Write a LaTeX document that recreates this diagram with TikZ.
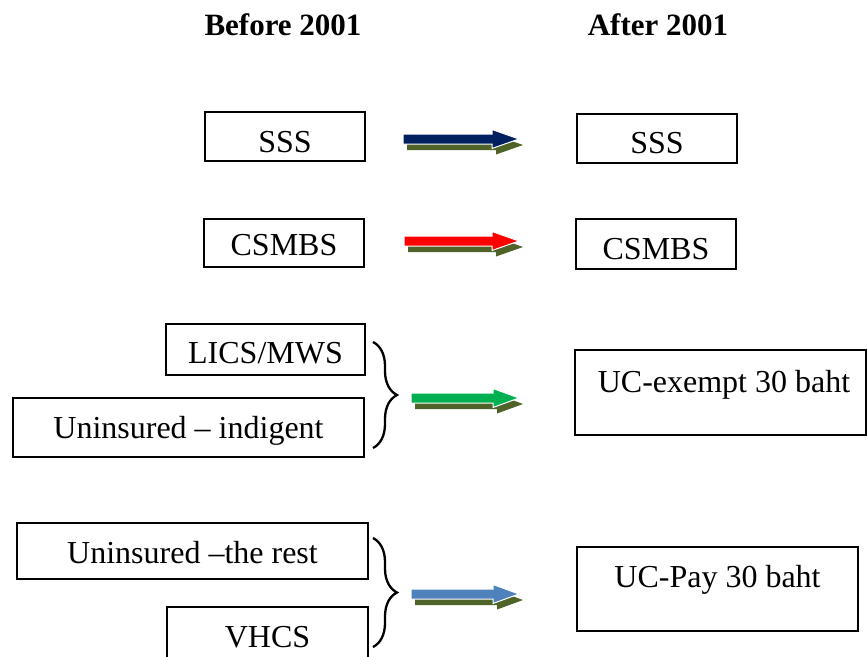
\documentclass[tikz,border=0pt]{standalone}
\usepackage{fontspec}
\setmainfont{Liberation Serif}
\usetikzlibrary{decorations.pathreplacing}
\definecolor{navyc}{HTML}{002060}
\definecolor{redc}{HTML}{FF0000}
\definecolor{greenc}{HTML}{00B050}
\definecolor{bluec}{HTML}{4F81BD}
\definecolor{shadowc}{HTML}{4F6228}
\newcommand\blockarrow[4]{% #1 start coordinate, #2 shaft length, #3 head length, #4 colour
  \begin{scope}[shift={(#1)}]
    \fill[shadowc, shift={(4,6)}] (0,-5) -- (#2,-5) -- (#2,-9.5) -- ({#2+#3},0) -- (#2,9.5) -- (#2,5) -- (0,5) -- cycle;
    \filldraw[fill=#4, draw=white, line width=1pt] (0,-5) -- (#2,-5) -- (#2,-9.5) -- ({#2+#3},0) -- (#2,9.5) -- (#2,5) -- (0,5) -- cycle;
  \end{scope}}
\begin{document}
\begin{tikzpicture}[x=1pt,y=-1pt,
  box/.style={draw, line width=1.3pt, inner sep=0pt, rectangle},
  txt/.style={anchor=base, inner sep=0pt, font=\fontsize{32}{38}\selectfont},
  head/.style={anchor=base, inner sep=0pt, font=\fontsize{31}{37}\selectfont\bfseries},
  brc/.style={decorate, decoration={brace, amplitude=24pt}, line width=2.3pt}]
\clip (0,0) rectangle (867,656);
\fill[white] (0,0) rectangle (867,656);

% headers
\node[head] (hb) at (283,35) {Before 2001};
\node[head] (ha) at (658,35) {After 2001};

% boxes
\node[box, minimum width=160pt, minimum height=49pt] (sssL) at (285,136.5) {};
\node[box, minimum width=160pt, minimum height=49pt] (sssR) at (657,138.5) {};
\node[box, minimum width=160pt, minimum height=48pt] (csL) at (284,243) {};
\node[box, minimum width=160pt, minimum height=50pt] (csR) at (656,244) {};
\node[box, minimum width=199pt, minimum height=51pt] (lics) at (265.5,349.5) {};
\node[box, minimum width=351pt, minimum height=59pt] (indig) at (188.5,427.5) {};
\node[box, minimum width=291pt, minimum height=85pt] (exempt) at (720.5,392.5) {};
\node[box, minimum width=351pt, minimum height=56pt] (rest) at (192.5,551) {};
\node[box, minimum width=201pt, minimum height=70pt] (vhcs) at (267.5,642) {};
\node[box, minimum width=281pt, minimum height=84pt] (upay) at (717.5,589) {};

% texts
\node[txt] (tsssL) at (285,152) {SSS};
\node[txt] (tsssR) at (657,153) {SSS};
\node[txt] (tcsL) at (284,255) {CSMBS};
\node[txt] (tcsR) at (656,259) {CSMBS};
\node[txt] (tlics) at (265.5,363) {LICS/MWS};
\node[txt] (tindig) at (188.5,438) {Uninsured – indigent};
\node[txt] (texempt) at (724,392) {UC-exempt 30 baht};
\node[txt] (trest) at (192.5,563) {Uninsured –the rest};
\node[txt] (tvhcs) at (267.5,647) {VHCS};
\node[txt] (tupay) at (717.5,587) {UC-Pay 30 baht};

% braces
\coordinate (b1t) at (373,342);
\coordinate (b1b) at (373,448);
\coordinate (b2t) at (373,538);
\coordinate (b2b) at (373,647);
\draw[brc] (b1t) -- (b1b);
\draw[brc] (b2t) -- (b2b);

% block arrows
\coordinate (a1) at (403,139);
\coordinate (a2) at (404,241);
\coordinate (a3) at (411,398);
\coordinate (a4) at (411,594);
\blockarrow{a1}{89}{27}{navyc}
\blockarrow{a2}{88}{27}{redc}
\blockarrow{a3}{82}{26}{greenc}
\blockarrow{a4}{82}{26}{bluec}
\end{tikzpicture}
\end{document}
